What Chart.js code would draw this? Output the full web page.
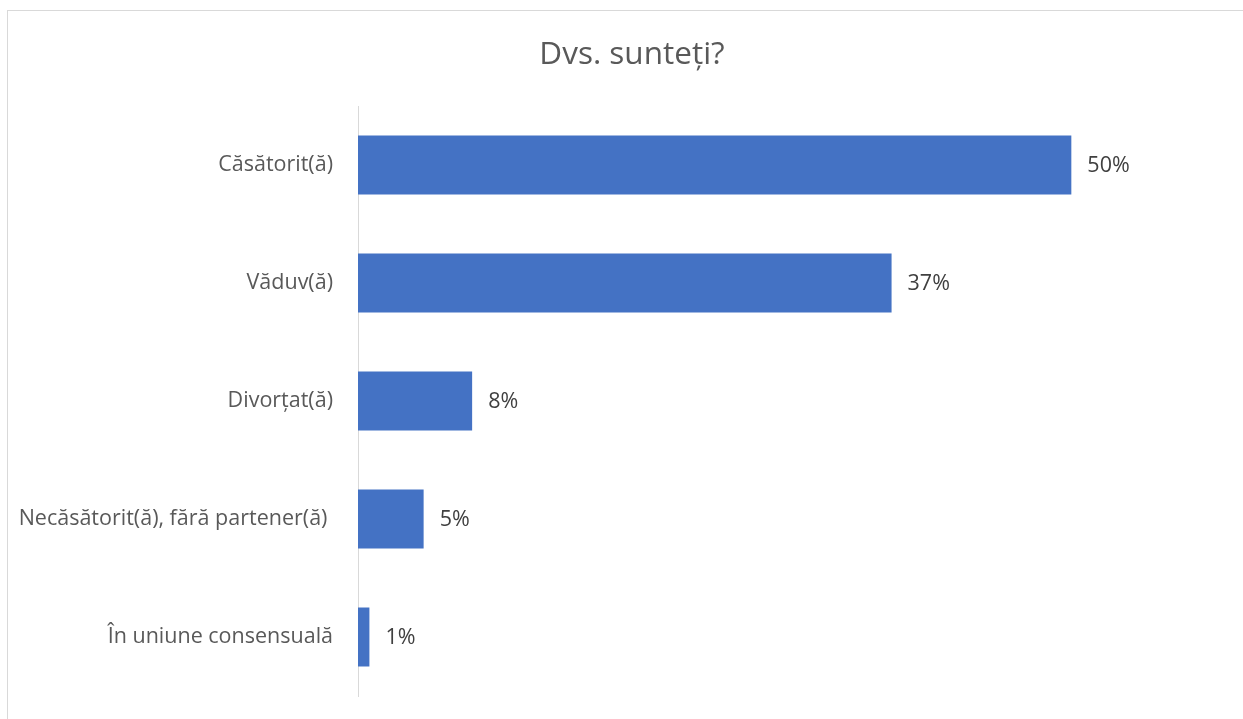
<!DOCTYPE html>
<html>
<head>
<meta charset="utf-8">
<script src="https://cdn.jsdelivr.net/npm/chart.js@4"></script>
<style>
  html, body { margin: 0; padding: 0; background: #fff; overflow: hidden; }
  #frame { position: absolute; left: 7px; top: 10px; width: 1300px; height: 800px; border: 1px solid #d9d9d9; }
  #wrap { position: absolute; left: 0; top: 0; width: 1243px; height: 719px; }
</style>
</head>
<body>
<div id="frame"></div>
<div id="wrap"><canvas id="statusChart" width="1243" height="719"></canvas></div>
<script>
// data (percent)
const categories = ['Căsătorit(ă)', 'Văduv(ă)', 'Divorțat(ă)', 'Necăsătorit(ă), fără partener(ă) ', 'În uniune consensuală'];
const shares = [50, 37.4, 8, 4.6, 0.8];
const chartTitle = 'Dvs. sunteți?';

const FONT = '"Open Sans", "Noto Sans", sans-serif';
const BAR_BLUE = '#4472C4';

// title + value labels drawn by hand so they sit where the original has them
const annotate = {
    id: 'annotate',
    afterDatasetsDraw(chart) {
        const ctx = chart.ctx;
        ctx.save();
        ctx.fillStyle = '#404040';
        ctx.font = '21.5px ' + FONT;
        ctx.textAlign = 'left';
        ctx.textBaseline = 'middle';
        chart.getDatasetMeta(0).data.forEach((bar, i) => {
            ctx.fillText(Math.round(shares[i]) + '%', bar.x + 16, bar.y + 1);
        });
        ctx.fillStyle = '#595959';
        ctx.font = '31.5px ' + FONT;
        ctx.textAlign = 'center';
        ctx.fillText(chartTitle, 632, 55);
        ctx.restore();
    }
};

new Chart(document.getElementById('statusChart'), {
    type: 'bar',
    data: {
        labels: categories,
        datasets: [{
            data: shares,
            backgroundColor: BAR_BLUE,
            borderWidth: 0,
            barPercentage: 0.5,
            categoryPercentage: 1
        }]
    },
    options: {
        indexAxis: 'y',
        responsive: false,
        animation: false,
        layout: { padding: { top: 106, bottom: 23, left: 0, right: 29 } },
        plugins: { legend: { display: false }, tooltip: { enabled: false }, title: { display: false } },
        scales: {
            x: { display: false, min: 0, max: 60 },
            y: {
                grid: { display: false, drawTicks: false },
                border: { display: true, color: '#d9d9d9', width: 1 },
                ticks: { color: '#595959', font: { family: FONT, size: 21.5 }, padding: 25 },
                afterFit(scale) {
                    scale.width = 358;
                    // no extra room for the first/last label
                    scale.paddingTop = 0;
                    scale.paddingBottom = 0;
                }
            }
        }
    },
    plugins: [annotate]
});
</script>
</body>
</html>
